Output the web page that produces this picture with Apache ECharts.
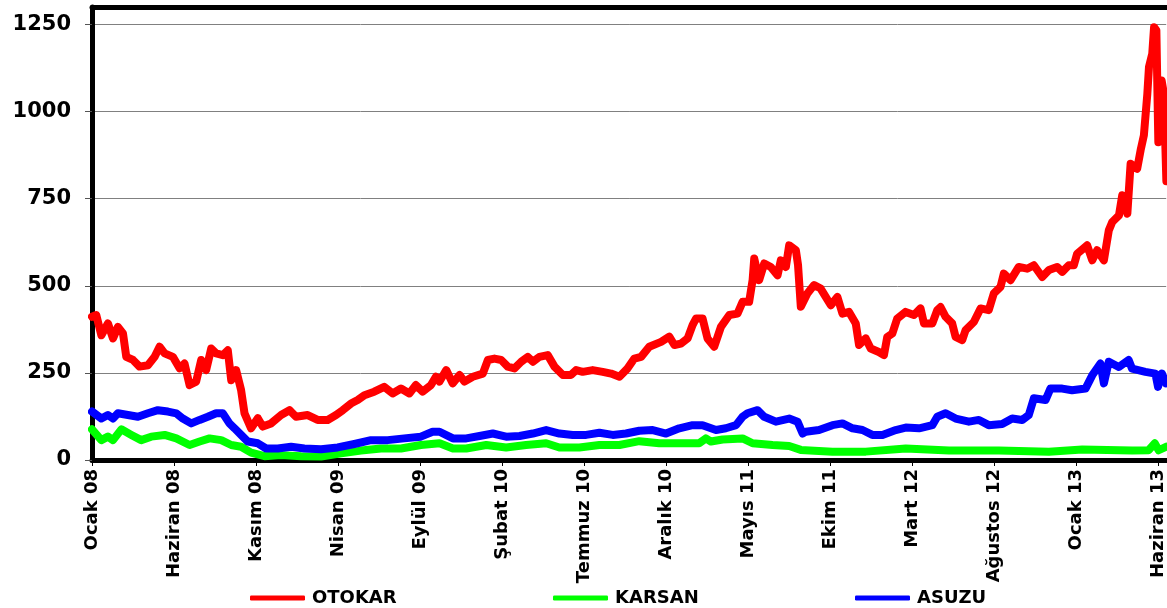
<!DOCTYPE html>
<html>
<head>
<meta charset="utf-8">
<script src="https://cdn.jsdelivr.net/npm/echarts@6/dist/echarts.min.js"></script>
<style>
html,body{margin:0;padding:0;background:#fff;}
#chart{width:1167px;height:608px;}
</style>
</head>
<body>
<div id="chart"></div>
<script>
// x positions are months since start of Ocak 2008
const tickLabels = ['Ocak 08','Haziran 08','Kasım 08','Nisan 09','Eylül 09','Şubat 10','Temmuz 10','Aralık 10','Mayıs 11','Ekim 11','Mart 12','Ağustos 12','Ocak 13','Haziran 13'];
const seriesNames = ['OTOKAR','KARSAN','ASUZU'];

const otokarMonths = [0,0.26,0.57,0.97,1.28,1.58,1.89,2.09,2.50,2.90,3.41,3.82,4.12,4.43,4.93,5.34,5.64,5.95,6.35,6.66,6.96,7.27,7.57,7.98,8.28,8.49,8.79,9.09,9.30,9.70,10.11,10.41,10.92,11.53,12.04,12.44,13.15,13.76,14.37,14.88,15.29,15.79,16.20,16.61,17.21,17.82,18.33,18.84,19.35,19.75,20.16,20.67,20.97,
21.19,21.6,21.99,22.41,22.71,23.22,23.83,24.14,24.54,24.95,25.35,25.76,26.17,26.57,26.88,27.28,27.79,28.20,28.71,29.21,29.52,29.92,30.53,31.14,31.65,32.16,32.66,33.07,33.48,33.98,34.70,35.20,35.51,35.91,36.32,36.62,36.83,37.23,37.53,37.94,38.35,38.86,39.36,39.67,40.07,40.28,40.38,40.68,40.99,41.39,41.80,42.00,42.31,42.51,42.92,43.05,43.22,
43.62,44.03,44.43,44.74,45.05,45.45,45.76,46.16,46.57,46.77,47.18,47.48,47.98,48.29,48.49,48.80,49.10,49.61,50.12,50.52,50.73,51.24,51.54,51.74,52.05,52.45,52.66,53.06,53.27,53.77,54.18,54.68,54.99,55.40,55.60,56.01,56.51,57.02,57.43,57.94,58.35,58.85,59.16,59.56,59.87,60.07,60.68,60.99,61.29,61.70,62.00,62.21,62.62,62.82,63.13,63.33,63.73,63.94,64.14,64.35,64.45,64.65,64.76,64.90,65.02,65.22,65.36,65.51];
const otokarValues = [411,416,358,392,349,382,363,296,287,268,272,296,325,306,296,263,277,215,225,287,258,320,306,301,315,229,258,201,134,91,120,96,105,129,143,124,129,115,115,129,143,162,172,186,196,210,191,205,191,215,196,215,239,
225,258,220,244,225,239,248,287,291,287,268,263,282,296,282,296,301,268,244,244,258,253,258,253,248,239,263,291,296,325,339,354,330,334,349,387,406,406,349,325,382,416,420,454,454,516,578,516,564,554,530,573,554,616,602,560,440,
478,502,492,468,444,468,420,425,392,330,349,320,310,301,353,363,406,425,416,435,392,392,430,439,411,392,353,344,373,396,435,430,478,497,535,516,554,549,559,525,545,554,540,559,559,592,616,573,602,573,659,683,702,760,707,850,836,889,932,1051,1128,1166,1242,1233,912,1089,1051,800];

const karsanMonths = [0,0.57,0.97,1.28,1.79,2.40,3.00,3.61,4.43,5.14,5.95,6.56,7.17,7.88,8.49,9.09,9.70,10.52,11.53,12.75,13.97,15.19,16.40,17.62,18.84,20.05,
21.19,22.01,22.82,24.04,25.25,26.47,27.69,28.50,29.72,30.94,32.16,33.37,34.59,35.81,37.02,37.43,37.74,38.45,39.67,40.28,41.50,42.51,43.22,
45.15,47.18,49.62,52.26,55.30,58.35,60.38,63.42,64.43,64.80,65.04,65.49];
const karsanValues = [88,57,67,57,88,72,57,67,72,62,43,53,62,57,43,38,21,11,14,11,10,19,27,33,33,43,
48,33,33,43,36,43,48,36,36,43,43,54,48,48,48,62,53,59,62,48,43,40,29,
24,24,33,27,27,24,30,27,28,48,28,38];

const asuzuMonths = [0,0.57,0.97,1.28,1.58,2.19,2.80,3.41,4.02,4.63,5.14,5.54,6.05,6.56,7.06,7.57,7.98,8.38,8.69,9.09,9.50,10.11,10.62,11.33,12.14,12.95,13.97,14.98,16.00,17.01,18.03,19.04,20.05,20.77,
21.19,22.01,22.82,23.63,24.44,25.25,26.07,26.88,27.69,28.50,29.31,30.13,30.94,31.75,32.56,33.37,34.19,35.00,35.81,36.62,37.23,38.05,38.65,39.27,39.67,39.97,40.58,40.99,41.70,42.51,43.02,43.33,
43.52,44.33,45.15,45.76,46.37,46.98,47.58,48.20,49.01,49.62,50.43,51.24,51.54,52.05,52.66,53.47,54.08,54.68,55.50,56.11,56.72,57.12,57.43,58.14,58.44,59.16,59.76,60.58,60.99,61.49,61.70,62.00,62.61,63.21,63.42,64.23,64.84,65.00,65.24,65.49];
const asuzuValues = [139,119,129,119,134,129,124,134,143,139,134,119,105,115,124,134,134,105,91,72,53,48,33,33,38,33,31,36,46,57,57,62,67,81,
81,62,62,69,76,67,69,76,86,76,72,72,78,72,76,84,86,76,91,100,100,86,91,100,124,134,143,124,110,119,110,76,
81,86,100,105,91,86,72,72,86,93,91,100,124,134,119,110,115,100,103,119,115,129,177,172,205,205,200,205,243,277,220,282,267,287,262,253,248,210,248,220];

const colors = ['#ff0000','#00ff00','#0000ff'];
const xs = [otokarMonths, karsanMonths, asuzuMonths];
const ys = [otokarValues, karsanValues, asuzuValues];

const FONT = 'DejaVu Sans';
const chart = echarts.init(document.getElementById('chart'), null, {renderer:'canvas'});

const series = seriesNames.map((name, i) => ({
  name: name,
  type: 'line',
  showSymbol: false,
  symbol: 'none',
  animation: false,
  data: xs[i].map((m, k) => [m, ys[i][k]]),
  lineStyle: {color: colors[i], width: 8, cap: 'round', join: 'round'},
  itemStyle: {color: colors[i]}
}));

const legendLefts = [250, 553, 855];
const legends = seriesNames.map((name, i) => ({
  data: [name],
  left: legendLefts[i],
  top: 589,
  padding: 0,
  icon: 'roundRect',
  itemWidth: 55,
  itemHeight: 5,
  textStyle: {fontFamily: FONT, fontWeight: 'bold', fontSize: 18, color: '#000', padding: [0,0,0,2]},
  selectedMode: false
}));

const X_MAX = 65.5;
chart.setOption({
  animation: false,
  backgroundColor: '#fff',
  grid: {left: 92, right: 0, top: 7, bottom: 148, show: false},
  legend: legends,
  xAxis: [{
    type: 'value', min: 0, max: X_MAX, interval: 5, position: 'bottom',
    axisLine: {show: true, lineStyle: {color: '#000', width: 5}},
    axisTick: {show: true, length: 6, lineStyle: {color: '#000', width: 1}},
    splitLine: {show: false},
    axisLabel: {
      rotate: 90, margin: 9, showMaxLabel: false,
      fontFamily: FONT, fontWeight: 'bold', fontSize: 18, color: '#000',
      formatter: v => (v % 5 === 0 && tickLabels[v / 5]) ? tickLabels[v / 5] : ''
    }
  }, {
    type: 'value', min: 0, max: X_MAX, position: 'top',
    axisLine: {show: true, onZero: false, lineStyle: {color: '#000', width: 5}},
    axisTick: {show: false}, axisLabel: {show: false}, splitLine: {show: false}
  }],
  yAxis: {
    type: 'value', min: 0, max: 1300, interval: 250,
    axisLine: {show: true, onZero: false, lineStyle: {color: '#000', width: 5}},
    axisTick: {show: true, length: 7, lineStyle: {color: '#555', width: 1}},
    splitLine: {show: true, lineStyle: {color: ['#000','#808080','#808080','#808080','#808080','#808080','#000'], width: 1}},
    axisLabel: {
      margin: 21, showMaxLabel: false,
      fontFamily: FONT, fontWeight: 'bold', fontSize: 21, color: '#000',
      formatter: v => (v % 250 === 0) ? String(v) : ''
    }
  },
  series: series
});
</script>
</body>
</html>
